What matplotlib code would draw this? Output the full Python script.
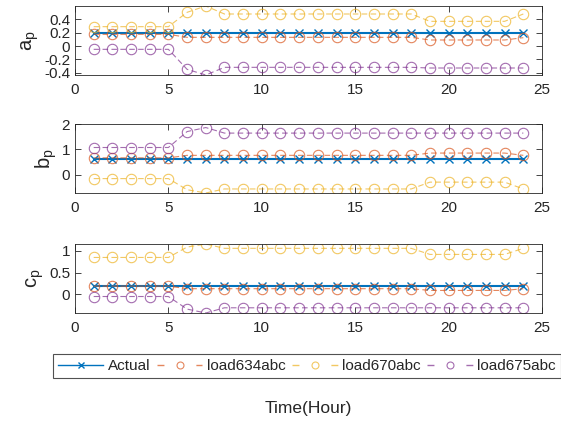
import numpy as np
import matplotlib.pyplot as plt
from matplotlib.lines import Line2D

plt.rcParams['font.family'] = ['Liberation Sans', 'DejaVu Sans']
plt.rcParams['mathtext.fontset'] = 'custom'
plt.rcParams['mathtext.rm'] = 'Liberation Sans'
plt.rcParams['mathtext.it'] = 'Liberation Sans'

hours = np.arange(1, 25)

# a_p
a_actual = [0.2] * 24
a_634 = [0.175] * 5 + [0.13] * 13 + [0.09] * 5 + [0.125]
a_670 = [0.29] * 5 + [0.505, 0.6] + [0.48] * 11 + [0.37] * 5 + [0.48]
a_675 = [-0.05] * 5 + [-0.35, -0.435] + [-0.32] * 11 + [-0.33] * 6

# b_p
b_actual = [0.61] * 24
b_634 = [0.66] * 5 + [0.76] * 13 + [0.85] * 5 + [0.76]
b_670 = [-0.16] * 5 + [-0.6, -0.73] + [-0.57] * 11 + [-0.3] * 5 + [-0.57]
b_675 = [1.07] * 5 + [1.7, 1.86] + [1.64] * 11 + [1.64] * 6

# c_p
c_actual = [0.2] * 24
c_634 = [0.19] * 5 + [0.13] * 13 + [0.09] * 5 + [0.13]
c_670 = [0.85] * 5 + [1.09, 1.16] + [1.06] * 11 + [0.92] * 5 + [1.06]
c_675 = [-0.05] * 5 + [-0.34, -0.43] + [-0.31] * 11 + [-0.31] * 6

labels = ['Actual', 'load634abc', 'load670abc', 'load675abc']
colors = ['#0072BD', '#D95319', '#EDB120', '#7E2F8E']
ylabels = [r'$\mathregular{a_p}$', r'$\mathregular{b_p}$', r'$\mathregular{c_p}$']
yticks = [[-0.4, -0.2, 0, 0.2, 0.4], [0, 1, 2], [0, 0.5, 1]]
yticklabels = [['-0.4', '-0.2', '0', '0.2', '0.4'], ['0', '1', '2'], ['0', '0.5', '1']]
ylims = [(-0.435, 0.6), (-0.73, 2.0), (-0.43, 1.16)]

panels = [
    [a_actual, a_634, a_670, a_675],
    [b_actual, b_634, b_670, b_675],
    [c_actual, c_634, c_670, c_675],
]

fig = plt.figure(figsize=(5.61, 4.23), dpi=100)
bottoms = [1 - 75 / 423, 1 - 193 / 423, 1 - 313 / 423]
left = 75 / 561
width = (542 - 75) / 561
height = 69 / 423

edge = '#262626'
for i, data in enumerate(panels):
    ax = fig.add_axes([left, bottoms[i], width, height])
    ax.plot(hours, data[0], '-x', color=colors[0], lw=1.5, ms=6, mew=1.0, label=labels[0])
    for j in range(1, 4):
        ax.plot(hours, data[j], '--o', color=colors[j], lw=0.8, ms=7.5, mew=0.8,
                mfc='none', alpha=0.7, dashes=(5, 3), label=labels[j])
    ax.set_xlim(0, 25)
    ax.set_ylim(*ylims[i])
    ax.set_xticks([0, 5, 10, 15, 20, 25])
    ax.set_yticks(yticks[i])
    ax.set_yticklabels(yticklabels[i])
    ax.tick_params(direction='in', top=True, right=True, labelsize=11,
                   colors=edge, length=4, width=0.6)
    ax.tick_params(axis='x', pad=6)
    for s in ax.spines.values():
        s.set_color(edge)
        s.set_linewidth(0.6)
    ax.set_ylabel(ylabels[i], fontsize=14.5, color=edge, labelpad=2)

handles = [Line2D([], [], color=colors[0], marker='x', lw=1, ms=4, mew=1)]
for j in range(1, 4):
    handles.append(Line2D([], [], color=colors[j], marker='o', lw=1, ms=5, mew=0.8,
                          mfc='none', alpha=0.7, ls=(0, (5, 23))))
leg = fig.legend(handles, labels, ncol=4, loc='center left',
                 bbox_to_anchor=(53 / 561, 1 - 366 / 423), frameon=True, fancybox=False,
                 fontsize=11, handlelength=3.0, handletextpad=0.3, columnspacing=0.4,
                 borderpad=0.3, borderaxespad=0)
leg.get_frame().set_edgecolor(edge)
leg.get_frame().set_linewidth(0.8)
for t in leg.get_texts():
    t.set_color(edge)

fig.text((75 + 542) / 2 / 561, 1 - 408 / 423, 'Time(Hour)', ha='center', va='center',
         fontsize=12.5, color=edge)

fig.savefig('out.png', dpi=100)
